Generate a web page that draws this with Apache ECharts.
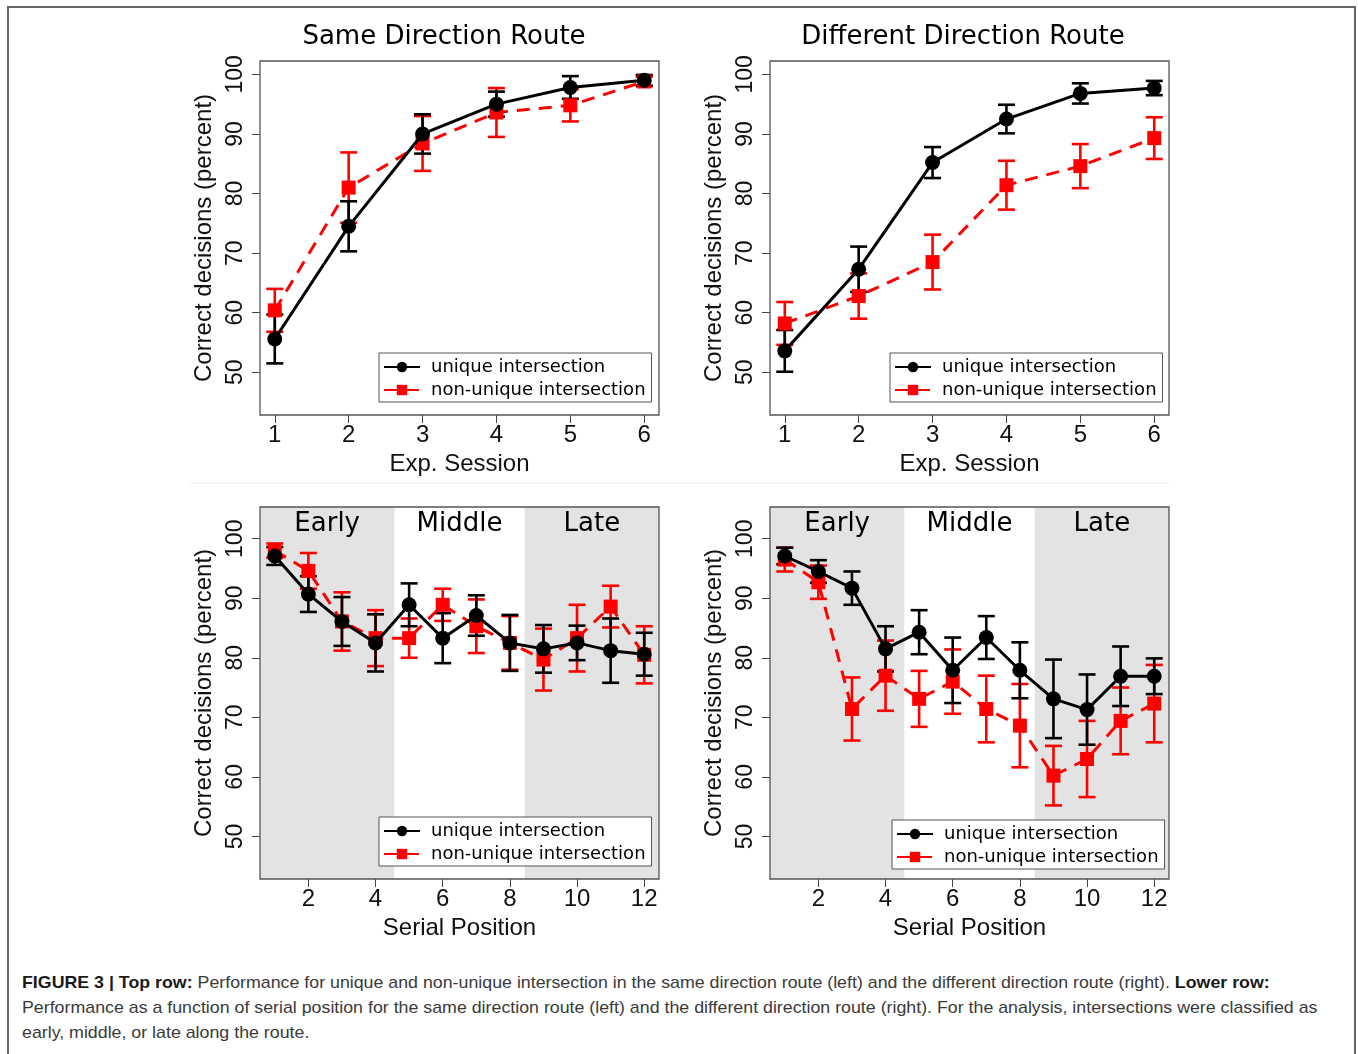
<!DOCTYPE html>
<html>
<head>
<meta charset="utf-8">
<script src="https://cdn.jsdelivr.net/npm/echarts@6.0.0/dist/echarts.min.js"></script>
<style>
  html, body { margin: 0; padding: 0; background: #fff; }
  #frame { position: absolute; left: 7px; top: 6px; width: 1349px; height: 1100px; border: 2px solid #666; box-sizing: border-box; }
  #main { position: absolute; left: 0; top: 0; width: 1358px; height: 960px; }
  #caption { position: absolute; left: 22px; top: 970px; font-family: 'Liberation Sans', Arial, sans-serif; font-size: 17px; line-height: 25px; color: #3a3a3a; white-space: nowrap; transform-origin: 0 0; }
  #caption b { color: #1a1a1a; }
</style>
</head>
<body>
<div id="frame"></div>
<div id="main"></div>
<div id="caption">
  <div id="cap1"><b>FIGURE 3 | Top row:</b> Performance for unique and non-unique intersection in the same direction route (left) and the different direction route (right). <b>Lower row:</b></div>
  <div>Performance as a function of serial position for the same direction route (left) and the different direction route (right). For the analysis, intersections were classified as</div>
  <div>early, middle, or late along the route.</div>
</div>
<script>
// x positions
const sessions = [1, 2, 3, 4, 5, 6];
const positions = [1, 2, 3, 4, 5, 6, 7, 8, 9, 10, 11, 12];
const sessionTicks = [1, 2, 3, 4, 5, 6];
const positionTicks = [2, 4, 6, 8, 10, 12];
const yTicks = [50, 60, 70, 80, 90, 100];

const seriesNames = ['unique intersection', 'non-unique intersection'];
const panelTitles = ['Same Direction Route', 'Different Direction Route'];
const regionNames = ['Early', 'Middle', 'Late'];
const regionBreaks = [4.56, 8.44];

// top row: percent correct by session
const sameUniqueMean = [55.6, 74.5, 90.0, 95.0, 97.8, 99.0];
const sameUniqueErr = [4.1, 4.2, 3.3, 2.1, 1.9, 0.9];
const sameNonMean = [60.4, 81.0, 88.4, 93.6, 94.8, 98.8];
const sameNonErr = [3.6, 5.9, 4.6, 4.1, 2.7, 0.8];

const diffUniqueMean = [53.6, 67.3, 85.2, 92.5, 96.8, 97.7];
const diffUniqueErr = [3.5, 3.8, 2.6, 2.4, 1.7, 1.2];
const diffNonMean = [58.2, 62.8, 68.5, 81.4, 84.6, 89.3];
const diffNonErr = [3.6, 3.8, 4.6, 4.1, 3.7, 3.5];

// lower row: percent correct by serial position
const sameSerUniqueMean = [97.1, 90.7, 86.1, 82.5, 88.9, 83.3, 87.1, 82.5, 81.5, 82.5, 81.2, 80.6];
const sameSerUniqueErr = [1.5, 3.0, 4.1, 4.8, 3.6, 4.2, 3.4, 4.7, 4.0, 2.9, 5.4, 3.6];
const sameSerNonMean = [98.0, 94.6, 86.1, 83.3, 83.3, 88.9, 85.3, 82.5, 79.7, 83.3, 88.6, 80.5];
const sameSerNonErr = [1.2, 3.0, 4.9, 4.7, 3.3, 2.7, 4.5, 4.5, 5.2, 5.6, 3.5, 4.8];

const diffSerUniqueMean = [97.1, 94.5, 91.7, 81.5, 84.3, 77.9, 83.4, 77.9, 73.1, 71.3, 76.9, 76.9];
const diffSerUniqueErr = [1.4, 1.9, 2.8, 3.8, 3.7, 5.5, 3.6, 4.7, 6.6, 5.9, 5.0, 3.0];
const diffSerNonMean = [96.5, 92.7, 71.4, 77.0, 73.1, 76.0, 71.4, 68.6, 60.2, 63.0, 69.4, 72.3];
const diffSerNonErr = [2.0, 2.8, 5.3, 5.9, 4.7, 5.4, 5.6, 7.0, 5.0, 6.4, 5.6, 6.5];

const AX_FONT = "'Liberation Sans', Arial, sans-serif";
const DV_FONT = "'DejaVu Sans', sans-serif";
const RED = '#ff0000';

const chart = echarts.init(document.getElementById('main'));

const grids = [], xAxes = [], yAxes = [], series = [], legends = [];
const graphics = [];

function errBar(color) {
  return function (params, api) {
    const x = api.value(0);
    const lo = api.coord([x, api.value(1)]);
    const hi = api.coord([x, api.value(2)]);
    const w = 8.5;
    const st = { stroke: color, lineWidth: 2.6 };
    return {
      type: 'group',
      children: [
        { type: 'line', shape: { x1: lo[0], y1: lo[1], x2: hi[0], y2: hi[1] }, style: st },
        { type: 'line', shape: { x1: lo[0] - w, y1: lo[1], x2: lo[0] + w, y2: lo[1] }, style: st },
        { type: 'line', shape: { x1: hi[0] - w, y1: hi[1], x2: hi[0] + w, y2: hi[1] }, style: st }
      ]
    };
  };
}

function addPanel(p) {
  const i = grids.length;
  grids.push({ left: p.box[0], top: p.box[1], width: p.box[2], height: p.box[3],
    show: true, borderColor: '#555', borderWidth: 1.3, backgroundColor: 'transparent', z: 10 });
  xAxes.push({
    type: 'value', gridIndex: i, min: p.xr[0], max: p.xr[1],
    axisLine: { show: false, onZero: false },
    axisTick: { show: true, length: 8, lineStyle: { color: '#444', width: 1 }, customValues: p.xTicks },
    axisLabel: { customValues: p.xTicks, margin: 8, fontFamily: AX_FONT, fontSize: 24, color: '#111' },
    splitLine: { show: false },
    name: p.xName, nameLocation: 'middle', nameGap: 37,
    nameTextStyle: { fontFamily: AX_FONT, fontSize: 24, color: '#111' }
  });
  yAxes.push({
    type: 'value', gridIndex: i, min: p.yr[0], max: p.yr[1],
    axisLine: { show: false },
    axisTick: { show: true, length: 8, lineStyle: { color: '#444', width: 1 }, customValues: yTicks },
    axisLabel: { customValues: yTicks, rotate: 90, margin: 13, fontFamily: AX_FONT, fontSize: 23, color: '#111' },
    splitLine: { show: false },
    name: 'Correct decisions (percent)', nameLocation: 'middle', nameGap: 44,
    nameTextStyle: { fontFamily: AX_FONT, fontSize: 24, color: '#111' }
  });

  const uniq = {
    name: seriesNames[0], type: 'line', xAxisIndex: i, yAxisIndex: i,
    data: p.xs.map((x, k) => [x, p.uMean[k]]),
    symbol: 'circle', symbolSize: 15, itemStyle: { color: '#000' },
    lineStyle: { color: '#000', width: 3 }, z: 5, silent: true
  };
  if (p.bands) {
    const lo = p.yr[0], hi = p.yr[1];
    const edges = [p.xr[0], regionBreaks[0], regionBreaks[1], p.xr[1]];
    uniq.markArea = {
      silent: true,
      label: { show: true, position: 'insideTop', distance: 4, fontFamily: DV_FONT, fontSize: 26, color: '#000' },
      data: regionNames.map((nm, k) => [
        { name: nm, xAxis: edges[k], yAxis: lo, itemStyle: { color: k === 1 ? 'rgba(0,0,0,0)' : '#e3e3e3' } },
        { xAxis: edges[k + 1], yAxis: hi }
      ])
    };
  }
  series.push({
    type: 'custom', xAxisIndex: i, yAxisIndex: i, silent: true, z: 3,
    data: p.xs.map((x, k) => [x, p.nMean[k] - p.nErr[k], p.nMean[k] + p.nErr[k]]),
    encode: { x: 0, y: [1, 2] }, renderItem: errBar(RED)
  });
  series.push({
    type: 'custom', xAxisIndex: i, yAxisIndex: i, silent: true, z: 3,
    data: p.xs.map((x, k) => [x, p.uMean[k] - p.uErr[k], p.uMean[k] + p.uErr[k]]),
    encode: { x: 0, y: [1, 2] }, renderItem: errBar('#000')
  });
  series.push(uniq);
  series.push({
    name: seriesNames[1], type: 'line', xAxisIndex: i, yAxisIndex: i,
    data: p.xs.map((x, k) => [x, p.nMean[k]]),
    symbol: 'rect', symbolSize: 14, itemStyle: { color: RED },
    lineStyle: { color: RED, width: 3, type: [13, 9] }, z: 4, silent: true
  });

  legends.push({
    data: seriesNames, left: p.leg[0], top: p.leg[1], orient: 'vertical',
    itemWidth: 36, itemHeight: 13, itemGap: 5, padding: [5, 6, 3, 4],
    borderColor: '#555', borderWidth: 1, backgroundColor: '#fff',
    selectedMode: false, z: 12,
    textStyle: { fontFamily: DV_FONT, fontSize: 18, color: '#000', padding: [0, 0, 0, 6] }
  });
  if (p.title) {
    graphics.push({ type: 'text', x: p.title[1], y: 37, z: 20,
      style: { text: p.title[0], align: 'center', verticalAlign: 'middle', font: '26px ' + DV_FONT, fill: '#000' } });
  }
}

addPanel({ box: [260, 61, 399, 354], xr: [0.8, 6.2], yr: [42.84, 102.24], xTicks: sessionTicks, xName: 'Exp. Session',
  xs: sessions, uMean: sameUniqueMean, uErr: sameUniqueErr, nMean: sameNonMean, nErr: sameNonErr,
  leg: [379, 353], title: [panelTitles[0], 444] });
addPanel({ box: [770, 61, 399, 354], xr: [0.8, 6.2], yr: [42.84, 102.24], xTicks: sessionTicks, xName: 'Exp. Session',
  xs: sessions, uMean: diffUniqueMean, uErr: diffUniqueErr, nMean: diffNonMean, nErr: diffNonErr,
  leg: [890, 353], title: [panelTitles[1], 963] });
addPanel({ box: [260, 507, 399, 372], xr: [0.56, 12.44], yr: [42.84, 105.33], xTicks: positionTicks, xName: 'Serial Position',
  xs: positions, uMean: sameSerUniqueMean, uErr: sameSerUniqueErr, nMean: sameSerNonMean, nErr: sameSerNonErr,
  leg: [379, 817], bands: true });
addPanel({ box: [770, 507, 399, 372], xr: [0.56, 12.44], yr: [42.84, 105.33], xTicks: positionTicks, xName: 'Serial Position',
  xs: positions, uMean: diffSerUniqueMean, uErr: diffSerUniqueErr, nMean: diffSerNonMean, nErr: diffSerNonErr,
  leg: [892, 820], bands: true });

// faint rule between the two rows
graphics.push({ type: 'line', shape: { x1: 190, y1: 483, x2: 1170, y2: 483 }, style: { stroke: '#eeeeee', lineWidth: 1 } });

chart.setOption({
  animation: false,
  grid: grids,
  xAxis: xAxes,
  yAxis: yAxes,
  legend: legends,
  graphic: graphics,
  series: series
});

// squeeze caption to the condensed width of the original
const cap = document.getElementById('caption');
const w1 = document.getElementById('cap1').scrollWidth;
cap.style.transform = 'scaleX(' + (1295 / w1) + ')';
</script>
</body>
</html>
